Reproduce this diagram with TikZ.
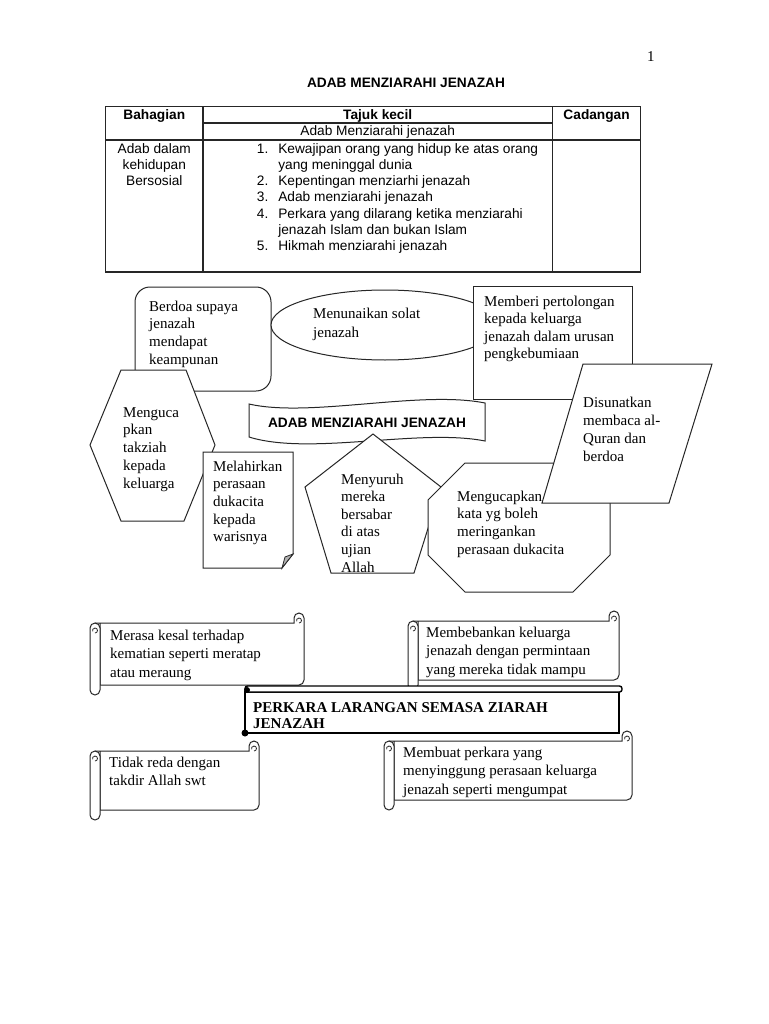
\documentclass[tikz,border=0pt]{standalone}
\usepackage{fontspec}
\setmainfont{Liberation Serif}
\newfontfamily\arialf{Liberation Sans}
\newcommand\linesl[1]{\begin{tabular}[t]{@{}l@{}}#1\end{tabular}}
\newcommand\linesc[1]{\begin{tabular}[t]{@{}c@{}}#1\end{tabular}}
\newcommand\scrollbox[4]{%
  \draw[shp] ({#1+5},{-(#2+10)}) -- ({#3-10},{-(#2+10)}) -- ({#3-10},{-(#2+5)})
     arc[start angle=180,end angle=0,radius=5] -- ({#3},{-(#4-15)})
     arc[start angle=0,end angle=-90,radius=5] -- ({#1+10},{-(#4-10)}) -- ({#1+10},{-(#2+10)}) -- cycle;
  \draw[thinl] ({#3-5},{-(#2+10)}) arc[start angle=-90,end angle=90,radius=2.5] arc[start angle=90,end angle=200,radius=2.5];
  \draw[shp] ({#1+5},{-(#2+10)}) arc[start angle=90,end angle=180,radius=5] -- ({#1},{-(#4-5)})
     arc[start angle=180,end angle=360,radius=5] -- ({#1+10},{-(#2+15)})
     arc[start angle=0,end angle=90,radius=5] -- cycle;
  \draw[thinl] ({#1+5},{-(#2+20)}) arc[start angle=-90,end angle=90,radius=2.5] arc[start angle=90,end angle=200,radius=2.5];
}
\tikzset{
  shp/.style={draw=black!85, line width=1pt, fill=white},
  thinl/.style={draw=black!85, line width=0.8pt},
  tline/.style={draw=black!85, line width=1.2pt},
  tx/.style={inner sep=0pt, anchor=base west},
  ser/.style={font=\fontsize{15}{#1}\selectfont},
  ari/.style={font=\arialf\fontsize{13.7}{16.2}\selectfont},
  arib/.style={font=\arialf\bfseries\fontsize{13.7}{16.2}\selectfont},
}
\begin{document}
\begin{tikzpicture}[x=1pt,y=1pt]
\useasboundingbox (0,0) rectangle (768,-1024);
\fill[white] (0,0) rectangle (768,-1024);

% page number and title
\node[tx, ser=18] (pagenum) at (647,-62) {1};
\node[inner sep=0pt, anchor=base, arib] (title) at (406,-88) {ADAB MENZIARAHI JENAZAH};

% table
\draw[tline] (105.7,-106.7) rectangle (640.7,-272);
\draw[tline] (203,-106.7) -- (203,-272);
\draw[tline] (552.5,-106.7) -- (552.5,-272);
\draw[tline] (203,-123) -- (552.5,-123);
\draw[tline] (105.7,-140) -- (640.7,-140);
\node[inner sep=0pt, anchor=base, arib] (hbah) at (154.3,-120) {Bahagian};
\node[inner sep=0pt, anchor=base, arib] (htaj) at (377.7,-120) {Tajuk kecil};
\node[inner sep=0pt, anchor=base, arib] (hcad) at (596.6,-120) {Cadangan};
\node[inner sep=0pt, anchor=base, ari] (hsub) at (377.7,-136) {Adab Menziarahi jenazah};
\node[inner sep=0pt, anchor=base, ari] (cbah) at (154.3,-153.3) {\linesc{Adab dalam\\kehidupan\\Bersosial}};
\node[tx, ari] (clist) at (256.7,-153.3) {\begin{tabular}[t]{@{}r@{\hspace{10pt}}l@{}}
1. & Kewajipan orang yang hidup ke atas orang\\
 & yang meninggal dunia\\
2. & Kepentingan menziarhi jenazah\\
3. & Adab menziarahi jenazah\\
4. & Perkara yang dilarang ketika menziarahi\\
 & jenazah Islam dan bukan Islam\\
5. & Hikmah menziarahi jenazah
\end{tabular}};

% shapes of the mind map
\draw[shp, rounded corners=15] (135,-287) rectangle (271,-391);
\draw[shp] (385,-325) ellipse [x radius=114, y radius=35];
\draw[shp] (473,-286) rectangle (632,-399);
\draw[shp] (121,-370) -- (186,-370) -- (215,-445) -- (184,-521) -- (121,-521) -- (90,-445) -- cycle;
\draw[shp] (203,-452) -- (293,-452) -- (293,-554) -- (282,-568) -- (203,-568) -- cycle;
\draw[thinl, fill=black!30] (293,-554) -- (285,-557) -- (282,-568) -- cycle;
\draw[shp] (249,-404) .. controls (310,-418) and (420,-390) .. (485,-403) -- (485,-441)
   .. controls (420,-428) and (310,-456) .. (249,-437) -- cycle;
\draw[shp] (373,-434) -- (441,-487) -- (414,-573) -- (331,-573) -- (305,-487) -- cycle;
\draw[shp] (465,-463) -- (573,-463) -- (610,-500) -- (610,-555) -- (573,-592) -- (465,-592) -- (428,-555) -- (428,-500) -- cycle;
\draw[shp] (583,-364) -- (712,-364) -- (669,-503) -- (542,-503) -- cycle;

% texts of the mind map
\node[tx, ser=17.7] (berdoa) at (149,-311) {\linesl{Berdoa supaya\\jenazah\\mendapat\\keampunan}};
\node[tx, ser=19] (solat) at (313,-318) {\linesl{Menunaikan solat\\jenazah}};
\node[tx, ser=17.5] (memberi) at (484,-306) {\linesl{Memberi pertolongan\\kepada keluarga\\jenazah dalam urusan\\pengkebumiaan}};
\node[tx, ser=18.3] (sunat) at (583,-407) {\linesl{Disunatkan\\membaca al-\\Quran dan\\berdoa}};
\node[tx, ser=17.7] (ucap) at (457,-501) {\linesl{Mengucapkan\\kata yg boleh\\meringankan\\perasaan dukacita}};
\node[tx, ser=17.6] (suruh) at (341,-484) {\linesl{Menyuruh\\mereka\\bersabar\\di atas\\ujian\\Allah}};
\node[tx, ser=17.8] (takziah) at (123,-417) {\linesl{Menguca\\pkan\\takziah\\kepada\\keluarga}};
\node[tx, ser=17.7] (lahir) at (213,-471) {\linesl{Melahirkan\\perasaan\\dukacita\\kepada\\warisnya}};
\node[inner sep=0pt, anchor=base, arib] (banner) at (367,-427) {ADAB MENZIARAHI JENAZAH};

% scrolls
\scrollbox{90}{613}{304}{695}
\scrollbox{408}{611}{619}{690}
\scrollbox{90}{741}{259}{820}
\scrollbox{384}{731}{632}{810}
\node[tx, ser=18.5] (kesal) at (110,-640) {\linesl{Merasa kesal terhadap\\kematian seperti meratap\\atau meraung}};
\node[tx, ser=18.5] (beban) at (426,-637) {\linesl{Membebankan keluarga\\jenazah dengan permintaan\\yang mereka tidak mampu}};
\node[tx, ser=18.5] (reda) at (109,-767) {\linesl{Tidak reda dengan\\takdir Allah swt}};
\node[tx, ser=18.5] (singgung) at (403,-757) {\linesl{Membuat perkara yang\\menyinggung perasaan keluarga\\jenazah seperti mengumpat}};

% title box of the lower part
\draw[draw=black, line width=2.6pt, fill=white] (245,-692) rectangle (619,-733);
\draw[draw=black, line width=1.4pt, fill=white, rounded corners=2.5] (245,-686) rectangle (622,-692);
\fill[black] (247,-690) circle (3);
\fill[black] (245,-733) circle (3.5);
\node[tx, font=\bfseries\fontsize{15}{16}\selectfont] (larangan) at (253,-712) {\linesl{PERKARA LARANGAN SEMASA ZIARAH\\JENAZAH}};
\end{tikzpicture}
\end{document}
